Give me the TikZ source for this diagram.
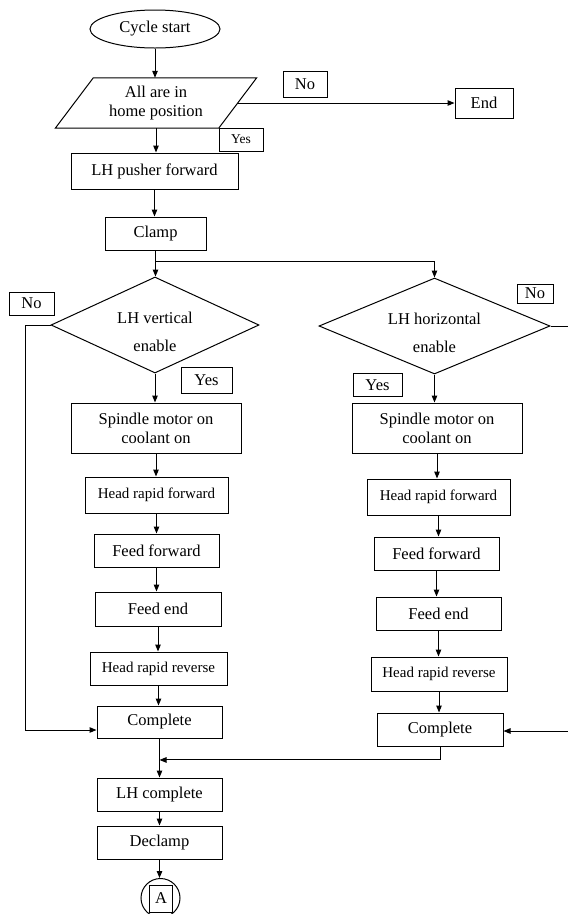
\documentclass[tikz,border=0pt]{standalone}
\usepackage{fontspec}
\setmainfont{Liberation Serif}
\usetikzlibrary{shapes.geometric,arrows.meta,calc}
\begin{document}
\begin{tikzpicture}[x=1pt,y=-1pt,
  every node/.style={font=\fontsize{16.5}{19}\selectfont, inner sep=0pt, align=center},
  box/.style={draw, line width=1pt, rectangle},
  lbl/.style={draw, line width=0.9pt, rectangle},
  arr/.style={line width=1pt, -{Triangle[length=7pt,width=5.5pt]}},
  ln/.style={line width=1pt},
  smalltxt/.style={font=\fontsize{15}{18}\selectfont},
  dia/.style={diamond, draw, line width=1pt, aspect=2.17}]
\useasboundingbox (0,0) rectangle (568,914);
\fill[white] (0,0) rectangle (568,914);

% top part
\node[ellipse, draw, line width=1pt, minimum width=130pt, minimum height=38pt] (start) at (155,29) {Cycle start};
\node[minimum width=163pt, minimum height=50pt] (home) at (156,103) {All are in\\home position};
\draw[ln] ([xshift=19pt]home.north west) -- ([xshift=19pt]home.north east) -- ([xshift=-19pt]home.south east) -- ([xshift=-19pt]home.south west) -- cycle;
\node[box, minimum width=58pt, minimum height=30pt] (end) at (484,103) {End};
\node[lbl, minimum width=44pt, minimum height=26pt] (no1) at (305,84) {No};
\node[lbl, minimum width=44pt, minimum height=23pt, font=\fontsize{13.5}{16}\selectfont] (yes1) at (241,139.5) {Yes};
\node[box, minimum width=167pt, minimum height=36pt] (push) at (154.5,171) {LH pusher forward};
\node[box, minimum width=101pt, minimum height=33pt] (clamp) at (155.5,233.5) {Clamp};
\coordinate (split) at (155,261);

% decisions
\node[dia, minimum width=208pt, minimum height=96pt] (dL) at (155,325) {};
\node (dLt) at ([yshift=-6.5pt]dL.center) {LH vertical\\[9pt]enable};
\node[dia, minimum width=231pt, minimum height=96pt] (dR) at (434.5,326) {};
\node (dRt) at ([yshift=-6.5pt]dR.center) {LH horizontal\\[9pt]enable};
\node[lbl, minimum width=45pt, minimum height=23pt] (noL) at (31.5,303.5) {No};
\node[lbl, minimum width=36pt, minimum height=19pt] (noR) at (535,293.5) {No};
\node[lbl, minimum width=51pt, minimum height=26pt] (yesL) at (206.5,380) {Yes};
\node[lbl, minimum width=49pt, minimum height=23pt] (yesR) at (377.5,385) {Yes};

% left column
\node[box, minimum width=170pt, minimum height=50pt] (spL) at (156,428) {Spindle motor on\\coolant on};
\node[box, smalltxt, minimum width=143pt, minimum height=36pt] (hrfL) at (156.5,495) {Head rapid forward};
\node[box, minimum width=125pt, minimum height=33pt] (ffL) at (156.5,550.5) {Feed forward};
\node[box, minimum width=126pt, minimum height=34pt] (feL) at (158,609) {Feed end};
\node[box, smalltxt, minimum width=137pt, minimum height=33pt] (hrrL) at (158.5,668.5) {Head rapid reverse};
\node[box, minimum width=125pt, minimum height=32pt] (cL) at (159.5,722) {Complete};

% right column
\node[box, minimum width=170pt, minimum height=50pt] (spR) at (437,428) {Spindle motor on\\coolant on};
\node[box, smalltxt, minimum width=143pt, minimum height=36pt] (hrfR) at (438.5,497) {Head rapid forward};
\node[box, minimum width=125pt, minimum height=33pt] (ffR) at (436.5,553.5) {Feed forward};
\node[box, minimum width=125pt, minimum height=33pt] (feR) at (438.5,613.5) {Feed end};
\node[box, smalltxt, minimum width=136pt, minimum height=34pt] (hrrR) at (439,674) {Head rapid reverse};
\node[box, minimum width=126pt, minimum height=33pt] (cR) at (440,729.5) {Complete};

% bottom
\node[box, minimum width=125pt, minimum height=33pt] (lhc) at (159.5,794.5) {LH complete};
\node[box, minimum width=125pt, minimum height=33pt] (decl) at (159.5,842.5) {Declamp};
\node[circle, draw, line width=1pt, minimum size=39pt] (circA) at (160.5,898) {};
\node[box, minimum width=23pt, minimum height=27pt] (sqA) at (161,898.5) {A};

% connectors
\draw[arr] (start.south) -- (start.south |- home.north);
\draw[arr] (home.east) -- (home.east -| end.west);
\draw[arr] (home.south) -- (home.south |- push.north);
\draw[arr] (push.south) -- (push.south |- clamp.north);
\draw[arr] (clamp.south) -- (clamp.south |- dL.north);
\draw[arr] (clamp.south |- split) -| (dR.north);
\draw[arr] (dL.south) -- (dL.south |- spL.north);
\draw[arr] (dR.south) -- (dR.south |- spR.north);

\draw[arr] (spL.south) -- (spL.south |- hrfL.north);
\draw[arr] (hrfL.south) -- (hrfL.south |- ffL.north);
\draw[arr] (ffL.south) -- (ffL.south |- feL.north);
\draw[arr] (feL.south) -- (feL.south |- hrrL.north);
\draw[arr] (hrrL.south) -- (hrrL.south |- cL.north);

\draw[arr] (spR.south) -- (spR.south |- hrfR.north);
\draw[arr] (hrfR.south) -- (hrfR.south |- ffR.north);
\draw[arr] (ffR.south) -- (ffR.south |- feR.north);
\draw[arr] (feR.south) -- (feR.south |- hrrR.north);
\draw[arr] (hrrR.south) -- (hrrR.south |- cR.north);

\draw[arr] (dL.west) -- ++(-25,0) |- ([yshift=-8pt]cL.west);
\draw[arr] (dR.east) -- ++(22,0) |- ([yshift=-1.5pt]cR.east);

\draw[arr] (cR.south) |- ($(cL.south)!0.55!(lhc.north)$);
\draw[arr] (cL.south) -- (cL.south |- lhc.north);
\draw[arr] (lhc.south) -- (lhc.south |- decl.north);
\draw[arr] (decl.south) -- (decl.south |- circA.north);
\end{tikzpicture}
\end{document}
